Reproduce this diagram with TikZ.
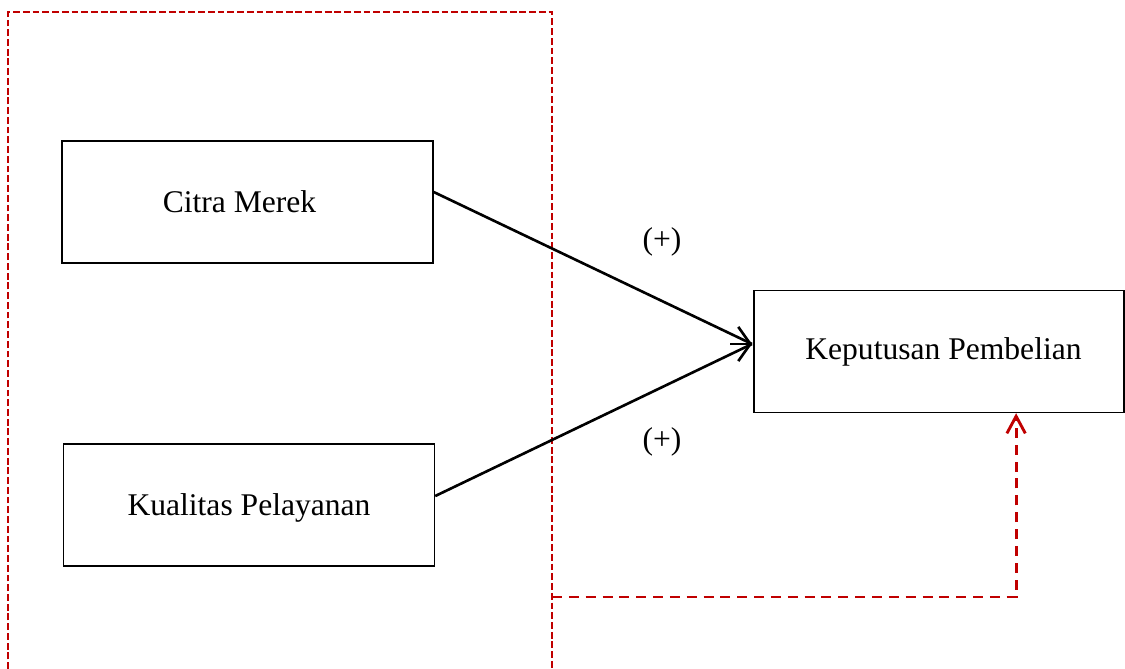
\documentclass[tikz,border=0pt]{standalone}
\usepackage{fontspec}
\setmainfont{Liberation Serif}
\usetikzlibrary{arrows.meta}
\definecolor{darkred}{RGB}{192,0,0}
\tikzset{
  varbox/.style={draw, line width=0.5pt, minimum width=141pt, minimum height=46.4pt, inner sep=0pt, font=\fontsize{12}{14}\selectfont},
  effect/.style={line width=1pt},
  grouped/.style={darkred, line width=0.5pt, dash pattern=on 2.6pt off 1.1pt},
  moderate/.style={darkred, line width=1.1pt, dash pattern=on 3.8pt off 2.6pt}
}
\begin{document}
\begin{tikzpicture}[x=0.38pt,y=-0.38pt] %[scale=0.8]
      \useasboundingbox (0,0) rectangle (1125,669);
      \node[varbox] (cm) at (247.5,202) {\hspace*{-6.1pt}Citra Merek};
      \node[varbox, text depth=0pt] (kp) at (249,505) {Kualitas Pelayanan};
      \node[varbox, minimum width=140.6pt] (kep) at (939,351.5) {Keputusan Pembelian\hspace*{-3.4pt}};
      \node[font=\fontsize{12}{14}\selectfont] (p1) at (662,242) {(+)};
      \node[font=\fontsize{12}{14}\selectfont] (p2) at (662,442) {(+)};
      \coordinate (tip) at (752,344);
      \coordinate (stub) at (730,344);
      \coordinate (grp) at (552,597);
      % group frame, open at the bottom
      \draw [grouped] (8,669) -- (8,12) -- (552,12) -- (552,669);
      \draw [effect] ([yshift=3.8pt]cm.east) -- (tip);
      \draw [effect] ([yshift=3.4pt]kp.east) -- (tip);
      \draw [effect, -{Straight Barb[length=4.6pt, width=13pt]}] (stub) -- (tip);
      \draw [moderate, -{Straight Barb[length=6.5pt, width=7pt]}] (grp) -| ([xshift=29.3pt]kep.south);
    \end{tikzpicture}
\end{document}
